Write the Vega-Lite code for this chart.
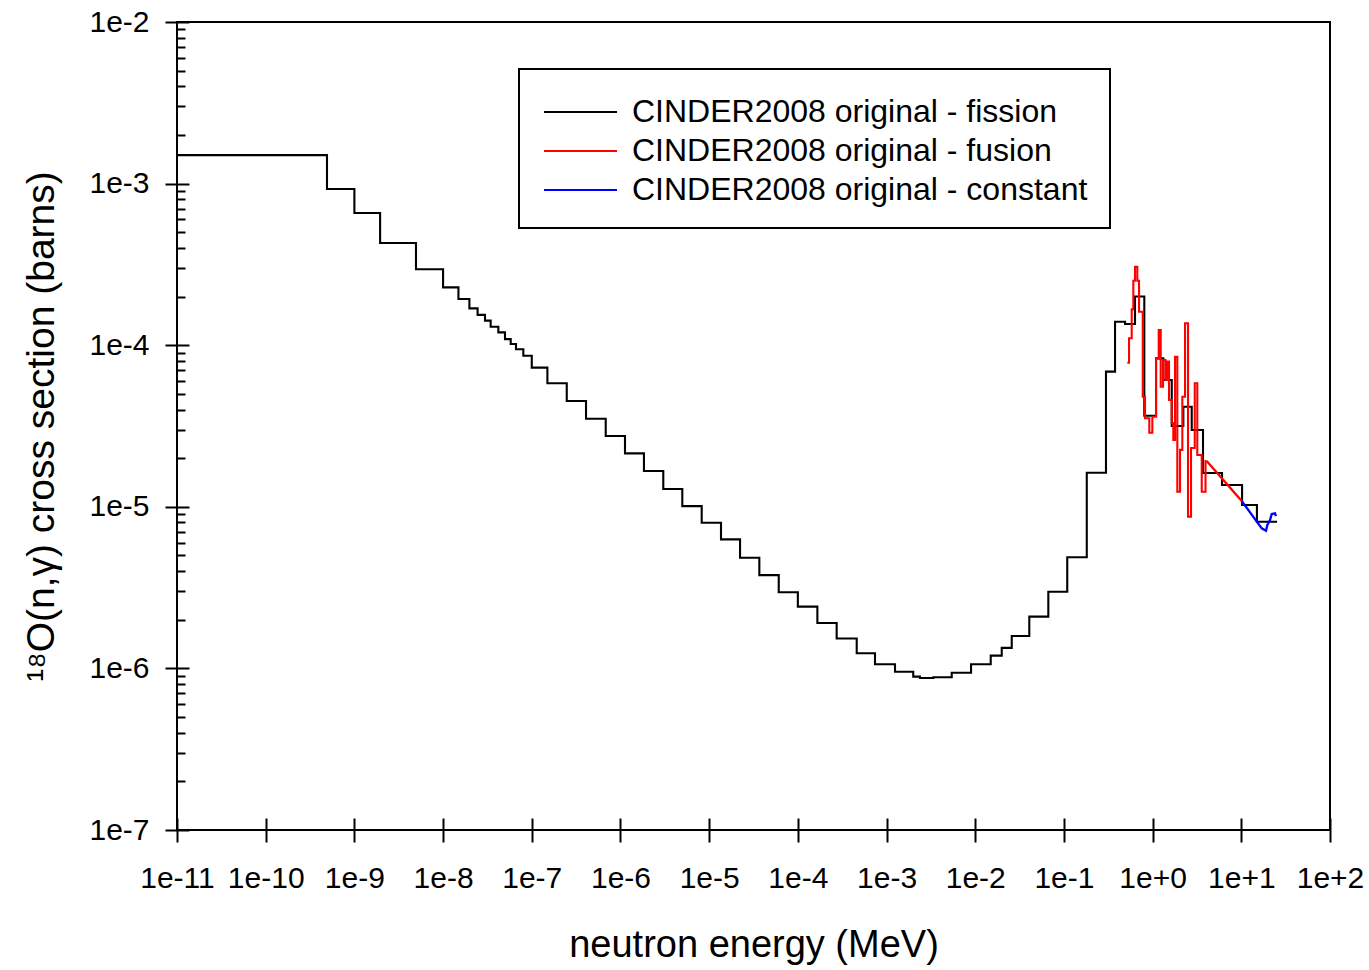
{
  "$schema": "https://vega.github.io/schema/vega-lite/v6.json",
  "width": 1153,
  "height": 808,
  "autosize": {"type": "none"},
  "padding": {"left": 177, "top": 22, "right": 39, "bottom": 140},
  "background": "white",
  "config": {
    "font": "Liberation Sans",
    "view": {"stroke": "black", "strokeWidth": 2},
    "axis": {"domain": false, "grid": false, "tickColor": "black", "tickWidth": 2, "labelColor": "black", "labelFont": "Liberation Sans", "titleFont": "Liberation Sans", "titleColor": "black", "titleFontWeight": "normal"}
  },
  "data": {"values": [
    {"E": 1e-11, "xs": 1.50e-3, "series": "CINDER2008 original - fission", "kind": "step"},
    {"E": 4.91e-10, "xs": 9.26e-4, "series": "CINDER2008 original - fission", "kind": "step"},
    {"E": 1.0e-9, "xs": 6.58e-4, "series": "CINDER2008 original - fission", "kind": "step"},
    {"E": 1.95e-9, "xs": 4.29e-4, "series": "CINDER2008 original - fission", "kind": "step"},
    {"E": 4.95e-9, "xs": 2.95e-4, "series": "CINDER2008 original - fission", "kind": "step"},
    {"E": 1.0e-8, "xs": 2.28e-4, "series": "CINDER2008 original - fission", "kind": "step"},
    {"E": 1.49e-8, "xs": 1.93e-4, "series": "CINDER2008 original - fission", "kind": "step"},
    {"E": 1.98e-8, "xs": 1.69e-4, "series": "CINDER2008 original - fission", "kind": "step"},
    {"E": 2.45e-8, "xs": 1.54e-4, "series": "CINDER2008 original - fission", "kind": "step"},
    {"E": 2.97e-8, "xs": 1.42e-4, "series": "CINDER2008 original - fission", "kind": "step"},
    {"E": 3.44e-8, "xs": 1.30e-4, "series": "CINDER2008 original - fission", "kind": "step"},
    {"E": 4.2e-8, "xs": 1.20e-4, "series": "CINDER2008 original - fission", "kind": "step"},
    {"E": 4.99e-8, "xs": 1.09e-4, "series": "CINDER2008 original - fission", "kind": "step"},
    {"E": 5.79e-8, "xs": 1.017e-4, "series": "CINDER2008 original - fission", "kind": "step"},
    {"E": 6.64e-8, "xs": 9.43e-5, "series": "CINDER2008 original - fission", "kind": "step"},
    {"E": 8.03e-8, "xs": 8.61e-5, "series": "CINDER2008 original - fission", "kind": "step"},
    {"E": 1.0e-7, "xs": 7.26e-5, "series": "CINDER2008 original - fission", "kind": "step"},
    {"E": 1.50e-7, "xs": 5.81e-5, "series": "CINDER2008 original - fission", "kind": "step"},
    {"E": 2.48e-7, "xs": 4.52e-5, "series": "CINDER2008 original - fission", "kind": "step"},
    {"E": 4.09e-7, "xs": 3.51e-5, "series": "CINDER2008 original - fission", "kind": "step"},
    {"E": 6.82e-7, "xs": 2.74e-5, "series": "CINDER2008 original - fission", "kind": "step"},
    {"E": 1.125e-6, "xs": 2.14e-5, "series": "CINDER2008 original - fission", "kind": "step"},
    {"E": 1.84e-6, "xs": 1.665e-5, "series": "CINDER2008 original - fission", "kind": "step"},
    {"E": 3.04e-6, "xs": 1.29e-5, "series": "CINDER2008 original - fission", "kind": "step"},
    {"E": 4.98e-6, "xs": 1.01e-5, "series": "CINDER2008 original - fission", "kind": "step"},
    {"E": 8.24e-6, "xs": 7.97e-6, "series": "CINDER2008 original - fission", "kind": "step"},
    {"E": 1.36e-5, "xs": 6.29e-6, "series": "CINDER2008 original - fission", "kind": "step"},
    {"E": 2.23e-5, "xs": 4.84e-6, "series": "CINDER2008 original - fission", "kind": "step"},
    {"E": 3.68e-5, "xs": 3.78e-6, "series": "CINDER2008 original - fission", "kind": "step"},
    {"E": 6.09e-5, "xs": 2.96e-6, "series": "CINDER2008 original - fission", "kind": "step"},
    {"E": 1.0e-4, "xs": 2.41e-6, "series": "CINDER2008 original - fission", "kind": "step"},
    {"E": 1.66e-4, "xs": 1.91e-6, "series": "CINDER2008 original - fission", "kind": "step"},
    {"E": 2.74e-4, "xs": 1.53e-6, "series": "CINDER2008 original - fission", "kind": "step"},
    {"E": 4.61e-4, "xs": 1.24e-6, "series": "CINDER2008 original - fission", "kind": "step"},
    {"E": 7.41e-4, "xs": 1.06e-6, "series": "CINDER2008 original - fission", "kind": "step"},
    {"E": 1.246e-3, "xs": 9.54e-7, "series": "CINDER2008 original - fission", "kind": "step"},
    {"E": 2.0e-3, "xs": 8.89e-7, "series": "CINDER2008 original - fission", "kind": "step"},
    {"E": 2.38e-3, "xs": 8.73e-7, "series": "CINDER2008 original - fission", "kind": "step"},
    {"E": 3.37e-3, "xs": 8.81e-7, "series": "CINDER2008 original - fission", "kind": "step"},
    {"E": 5.43e-3, "xs": 9.40e-7, "series": "CINDER2008 original - fission", "kind": "step"},
    {"E": 8.97e-3, "xs": 1.06e-6, "series": "CINDER2008 original - fission", "kind": "step"},
    {"E": 1.495e-2, "xs": 1.20e-6, "series": "CINDER2008 original - fission", "kind": "step"},
    {"E": 1.99e-2, "xs": 1.34e-6, "series": "CINDER2008 original - fission", "kind": "step"},
    {"E": 2.58e-2, "xs": 1.586e-6, "series": "CINDER2008 original - fission", "kind": "step"},
    {"E": 4.07e-2, "xs": 2.09e-6, "series": "CINDER2008 original - fission", "kind": "step"},
    {"E": 6.67e-2, "xs": 2.98e-6, "series": "CINDER2008 original - fission", "kind": "step"},
    {"E": 0.109, "xs": 4.87e-6, "series": "CINDER2008 original - fission", "kind": "step"},
    {"E": 0.181, "xs": 1.626e-5, "series": "CINDER2008 original - fission", "kind": "step"},
    {"E": 0.298, "xs": 6.86e-5, "series": "CINDER2008 original - fission", "kind": "step"},
    {"E": 0.377, "xs": 1.397e-4, "series": "CINDER2008 original - fission", "kind": "step"},
    {"E": 0.489, "xs": 1.352e-4, "series": "CINDER2008 original - fission", "kind": "step"},
    {"E": 0.633, "xs": 2.0e-4, "series": "CINDER2008 original - fission", "kind": "step"},
    {"E": 0.806, "xs": 3.66e-5, "series": "CINDER2008 original - fission", "kind": "step"},
    {"E": 1.093, "xs": 8.29e-5, "series": "CINDER2008 original - fission", "kind": "step"},
    {"E": 1.32, "xs": 6.09e-5, "series": "CINDER2008 original - fission", "kind": "step"},
    {"E": 1.643, "xs": 3.16e-5, "series": "CINDER2008 original - fission", "kind": "step"},
    {"E": 2.22, "xs": 4.16e-5, "series": "CINDER2008 original - fission", "kind": "step"},
    {"E": 2.76, "xs": 2.99e-5, "series": "CINDER2008 original - fission", "kind": "step"},
    {"E": 3.70, "xs": 1.62e-5, "series": "CINDER2008 original - fission", "kind": "step"},
    {"E": 6.06, "xs": 1.364e-5, "series": "CINDER2008 original - fission", "kind": "step"},
    {"E": 10.2, "xs": 1.026e-5, "series": "CINDER2008 original - fission", "kind": "step"},
    {"E": 15.0, "xs": 8.09e-6, "series": "CINDER2008 original - fission", "kind": "step"},
    {"E": 25.3, "xs": 8.09e-6, "series": "CINDER2008 original - fission", "kind": "step"},

    {"E": 0.5186, "xs": 7.79e-5, "series": "CINDER2008 original - fusion", "kind": "step"},
    {"E": 0.542, "xs": 1.103e-4, "series": "CINDER2008 original - fusion", "kind": "step"},
    {"E": 0.581, "xs": 1.667e-4, "series": "CINDER2008 original - fusion", "kind": "step"},
    {"E": 0.606, "xs": 2.506e-4, "series": "CINDER2008 original - fusion", "kind": "step"},
    {"E": 0.633, "xs": 3.06e-4, "series": "CINDER2008 original - fusion", "kind": "step"},
    {"E": 0.672, "xs": 2.506e-4, "series": "CINDER2008 original - fusion", "kind": "step"},
    {"E": 0.703, "xs": 1.612e-4, "series": "CINDER2008 original - fusion", "kind": "step"},
    {"E": 0.774, "xs": 4.80e-5, "series": "CINDER2008 original - fusion", "kind": "step"},
    {"E": 0.821, "xs": 3.53e-5, "series": "CINDER2008 original - fusion", "kind": "step"},
    {"E": 0.918, "xs": 2.87e-5, "series": "CINDER2008 original - fusion", "kind": "step"},
    {"E": 0.993, "xs": 3.61e-5, "series": "CINDER2008 original - fusion", "kind": "step"},
    {"E": 1.093, "xs": 8.29e-5, "series": "CINDER2008 original - fusion", "kind": "step"},
    {"E": 1.172, "xs": 1.242e-4, "series": "CINDER2008 original - fusion", "kind": "step"},
    {"E": 1.234, "xs": 5.53e-5, "series": "CINDER2008 original - fusion", "kind": "step"},
    {"E": 1.311, "xs": 8.10e-5, "series": "CINDER2008 original - fusion", "kind": "step"},
    {"E": 1.398, "xs": 6.09e-5, "series": "CINDER2008 original - fusion", "kind": "step"},
    {"E": 1.454, "xs": 7.91e-5, "series": "CINDER2008 original - fusion", "kind": "step"},
    {"E": 1.531, "xs": 4.58e-5, "series": "CINDER2008 original - fusion", "kind": "step"},
    {"E": 1.643, "xs": 3.30e-5, "series": "CINDER2008 original - fusion", "kind": "step"},
    {"E": 1.712, "xs": 2.59e-5, "series": "CINDER2008 original - fusion", "kind": "step"},
    {"E": 1.789, "xs": 8.49e-5, "series": "CINDER2008 original - fusion", "kind": "step"},
    {"E": 1.899, "xs": 1.24e-5, "series": "CINDER2008 original - fusion", "kind": "step"},
    {"E": 2.037, "xs": 2.25e-5, "series": "CINDER2008 original - fusion", "kind": "step"},
    {"E": 2.163, "xs": 4.80e-5, "series": "CINDER2008 original - fusion", "kind": "step"},
    {"E": 2.320, "xs": 1.366e-4, "series": "CINDER2008 original - fusion", "kind": "step"},
    {"E": 2.507, "xs": 8.69e-6, "series": "CINDER2008 original - fusion", "kind": "step"},
    {"E": 2.711, "xs": 2.31e-5, "series": "CINDER2008 original - fusion", "kind": "step"},
    {"E": 2.985, "xs": 5.81e-5, "series": "CINDER2008 original - fusion", "kind": "step"},
    {"E": 3.19, "xs": 2.09e-5, "series": "CINDER2008 original - fusion", "kind": "step"},
    {"E": 3.58, "xs": 1.24e-5, "series": "CINDER2008 original - fusion", "kind": "step"},
    {"E": 3.95, "xs": 1.92e-5, "series": "CINDER2008 original - fusion", "kind": "step"},
    {"E": 4.07, "xs": 1.92e-5, "series": "CINDER2008 original - fusion", "kind": "step"},

    {"E": 4.07, "xs": 1.92e-5, "series": "CINDER2008 original - fusion", "kind": "lin"},
    {"E": 10.11, "xs": 1.086e-5, "series": "CINDER2008 original - fusion", "kind": "lin"},

    {"E": 10.11, "xs": 1.086e-5, "series": "CINDER2008 original - constant", "kind": "lin"},
    {"E": 17.0, "xs": 7.36e-6, "series": "CINDER2008 original - constant", "kind": "lin"},
    {"E": 19.0, "xs": 7.11e-6, "series": "CINDER2008 original - constant", "kind": "lin"},
    {"E": 19.65, "xs": 7.72e-6, "series": "CINDER2008 original - constant", "kind": "lin"},
    {"E": 21.08, "xs": 8.29e-6, "series": "CINDER2008 original - constant", "kind": "lin"},
    {"E": 22.03, "xs": 9.02e-6, "series": "CINDER2008 original - constant", "kind": "lin"},
    {"E": 23.99, "xs": 9.12e-6, "series": "CINDER2008 original - constant", "kind": "lin"},
    {"E": 24.6, "xs": 8.77e-6, "series": "CINDER2008 original - constant", "kind": "lin"}
  ]},
  "encoding": {
    "color": {
      "field": "series",
      "type": "nominal",
      "scale": {
        "domain": ["CINDER2008 original - fission", "CINDER2008 original - fusion", "CINDER2008 original - constant"],
        "range": ["#000000", "#ff0000", "#0000ff"]
      },
      "legend": {
        "orient": "none",
        "legendX": 342,
        "legendY": 47,
        "title": null,
        "symbolType": "M-0.9,0H2.75",
        "symbolSize": 1600,
        "symbolStrokeWidth": 2,
        "labelFont": "Liberation Sans",
        "labelFontSize": 32,
        "labelColor": "black",
        "labelOffset": 49,
        "labelLimit": 0,
        "padding": 22,
        "rowPadding": 2,
        "strokeColor": "black",
        "fillColor": "white",
        "encode": {"legend": {"update": {"strokeWidth": {"value": 2}}}}
      }
    }
  },
  "layer": [
    {
      "transform": [{"filter": "datum.series === 'CINDER2008 original - fission'"}],
      "mark": {"type": "line", "interpolate": "step-after", "strokeWidth": 2.1, "clip": true},
      "encoding": {
        "x": {
          "field": "E", "type": "quantitative",
          "scale": {"type": "log", "domain": [1e-11, 100], "nice": false},
          "axis": {
            "orient": "bottom",
            "values": [1e-11, 1e-10, 1e-9, 1e-8, 1e-7, 1e-6, 1e-5, 1e-4, 1e-3, 1e-2, 1e-1, 1, 10, 100],
            "labelExpr": "format(datum.value, '.0e')",
            "tickSize": 12,
            "labelFontSize": 30,
            "labelPadding": 21,
            "labelFlush": false,
            "labelOverlap": false,
            "title": "neutron energy (MeV)",
            "titleFontSize": 38,
            "titleBaseline": "alphabetic",
            "titleY": 126
          }
        },
        "y": {
          "field": "xs", "type": "quantitative",
          "scale": {"type": "log", "domain": [1e-7, 1e-2], "nice": false},
          "axis": {
            "orient": "left",
            "values": [1e-7, 1e-6, 1e-5, 1e-4, 1e-3, 1e-2],
            "labelExpr": "format(datum.value, '.0e')",
            "tickSize": 12,
            "labelFontSize": 30,
            "labelPadding": 16,
            "labelFlush": false,
            "labelOverlap": false,
            "title": "¹⁸O(n,γ) cross section (barns)",
            "titleFontSize": 39,
            "titleAngle": -90,
            "titleBaseline": "alphabetic",
            "titleAlign": "center",
            "titleX": -124,
            "titleY": 404
          }
        }
      }
    },
    {
      "transform": [{"filter": "datum.series === 'CINDER2008 original - fusion' && datum.kind === 'step'"}],
      "mark": {"type": "line", "interpolate": "step-after", "strokeWidth": 2.1, "clip": true},
      "encoding": {
        "x": {
          "field": "E", "type": "quantitative",
          "axis": {
            "orient": "bottom",
            "values": [1e-11, 1e-10, 1e-9, 1e-8, 1e-7, 1e-6, 1e-5, 1e-4, 1e-3, 1e-2, 1e-1, 1, 10, 100],
            "tickSize": -12, "labels": false, "title": null
          }
        },
        "y": {
          "field": "xs", "type": "quantitative",
          "axis": {
            "orient": "left",
            "values": [1e-7, 1e-6, 1e-5, 1e-4, 1e-3, 1e-2],
            "tickSize": -12, "labels": false, "title": null
          }
        }
      }
    },
    {
      "transform": [{"filter": "datum.kind === 'lin'"}],
      "mark": {"type": "line", "strokeWidth": 2.3, "clip": true},
      "encoding": {
        "x": {"field": "E", "type": "quantitative", "axis": null},
        "y": {
          "field": "xs", "type": "quantitative",
          "axis": {
            "orient": "left",
            "values": [2e-7, 3e-7, 4e-7, 5e-7, 6e-7, 7e-7, 8e-7, 9e-7, 2e-6, 3e-6, 4e-6, 5e-6, 6e-6, 7e-6, 8e-6, 9e-6, 2e-5, 3e-5, 4e-5, 5e-5, 6e-5, 7e-5, 8e-5, 9e-5, 2e-4, 3e-4, 4e-4, 5e-4, 6e-4, 7e-4, 8e-4, 9e-4, 2e-3, 3e-3, 4e-3, 5e-3, 6e-3, 7e-3, 8e-3, 9e-3],
            "tickSize": -8, "labels": false, "title": null
          }
        }
      }
    }
  ],
  "resolve": {"axis": {"x": "independent", "y": "independent"}}
}
